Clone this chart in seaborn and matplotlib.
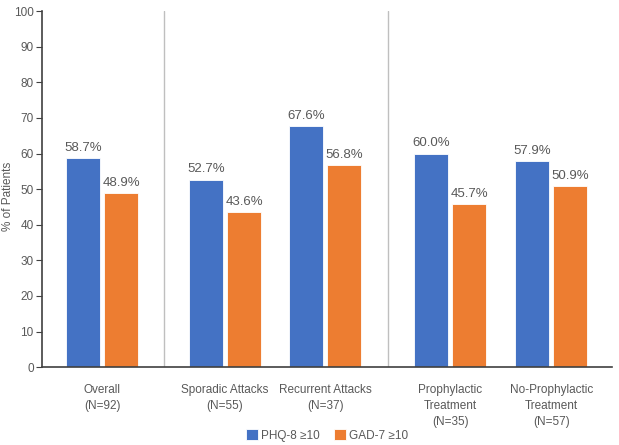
import matplotlib
matplotlib.use("Agg")
import matplotlib.pyplot as plt
import seaborn as sns
import pandas as pd

groups = ["Overall\n(N=92)", "Sporadic Attacks\n(N=55)", "Recurrent Attacks\n(N=37)",
          "Prophylactic\nTreatment\n(N=35)", "No-Prophylactic\nTreatment\n(N=57)"]
group_pos = [0, 1.23, 2.23, 3.48, 4.49]
separators = [0.615, 2.855]
series = ["PHQ-8 \u226510", "GAD-7 \u226510"]
phq8 = [58.7, 52.7, 67.6, 60.0, 57.9]
gad7 = [48.9, 43.6, 56.8, 45.7, 50.9]
colors = ["#4472C4", "#ED7D31"]

df = pd.DataFrame({
    "pos": group_pos * 2,
    "value": phq8 + gad7,
    "series": [series[0]] * len(phq8) + [series[1]] * len(gad7),
})

sns.set_style("white")
plt.rcParams["font.family"] = ["Liberation Sans", "DejaVu Sans"]
text_col = "#595959"

fig = plt.figure(figsize=(6.19, 4.45), dpi=100)
ax = fig.add_axes([0.068, 0.175, 0.921, 0.8])

sns.barplot(data=df, x="pos", y="value", hue="series", palette=colors,
            native_scale=True, width=0.76, gap=0.1, saturation=1,
            edgecolor="white", linewidth=0.6, ax=ax)

for c in ax.containers:
    ax.bar_label(c, fmt="%.1f%%", padding=3, fontsize=9.5, color=text_col)

for s in separators:
    ax.plot([s, s], [0, 100], color="#BFBFBF", lw=1)

ax.set_xlim(-0.6, 5.1)
ax.set_ylim(0, 100)
ax.set_yticks(range(0, 101, 10))
ax.set_xticks(group_pos)
ax.set_xticklabels(groups, fontsize=8.5, color=text_col, linespacing=1.45)
ax.tick_params(axis="y", labelsize=8.5, labelcolor=text_col, length=4, pad=2,
               color="#404040", direction="out", left=True)
ax.tick_params(axis="x", length=0, pad=12)
ax.set_xlabel("")
ax.set_ylabel("% of Patients", fontsize=8.5, color=text_col)
ax.yaxis.set_label_coords(-0.05, 0.48)
sns.despine(ax=ax)
for sp in ["left", "bottom"]:
    ax.spines[sp].set_color("#404040")
    ax.spines[sp].set_linewidth(1.2)

ax.legend(loc="center", bbox_to_anchor=(0.5, -0.192), ncol=2, frameon=False,
          fontsize=8.5, handlelength=1.0, handleheight=1.0, handletextpad=0.3,
          columnspacing=1.2, labelcolor=text_col)

fig.savefig("out.png", dpi=100)
